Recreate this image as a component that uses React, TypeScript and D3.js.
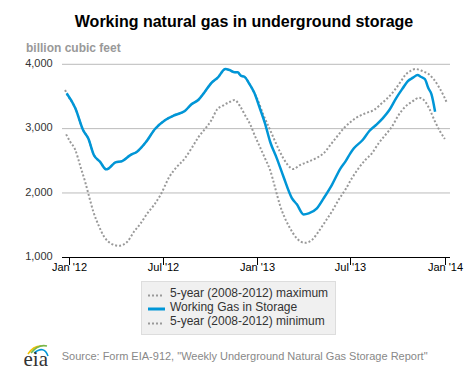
import * as d3 from "d3";

const width = 475;
const height = 386;
const font = "Arial, 'Liberation Sans', sans-serif";

// working gas in storage (bcf)
const storageDates = [
  "2011-12-27", "2012-01-13", "2012-01-28", "2012-02-07", "2012-02-18", "2012-03-01",
  "2012-03-13", "2012-03-18", "2012-03-31", "2012-04-13", "2012-04-29", "2012-05-12",
  "2012-05-29", "2012-06-16", "2012-07-06", "2012-07-25", "2012-08-13", "2012-08-26",
  "2012-09-08", "2012-09-21", "2012-10-03", "2012-10-16", "2012-10-31", "2012-11-08",
  "2012-11-18", "2012-11-24", "2012-11-30", "2012-12-07", "2012-12-16", "2012-12-26",
  "2013-01-06", "2013-01-16", "2013-01-26", "2013-02-08", "2013-02-21", "2013-03-09",
  "2013-03-19", "2013-04-01", "2013-04-11", "2013-04-27", "2013-05-10", "2013-05-26",
  "2013-06-12", "2013-06-22", "2013-07-01", "2013-07-08", "2013-07-25", "2013-08-07",
  "2013-08-20", "2013-09-02", "2013-09-15", "2013-09-28", "2013-10-11", "2013-10-21",
  "2013-10-31", "2013-11-09", "2013-11-15", "2013-11-23", "2013-11-30", "2013-12-06",
  "2013-12-13",
];
const storageValues = [
  3549, 3316, 2978, 2849, 2589, 2485,
  2367, 2383, 2476, 2496, 2589, 2641,
  2787, 2994, 3134, 3212, 3274, 3378,
  3445, 3574, 3704, 3792, 3927, 3911,
  3875, 3875, 3823, 3807, 3704, 3560,
  3316, 3082, 2796, 2538, 2252, 1925,
  1823, 1667, 1683, 1761, 1916, 2123,
  2383, 2496, 2616, 2694, 2823, 2963,
  3056, 3160, 3289, 3471, 3627, 3740,
  3792, 3834, 3807, 3771, 3627, 3533,
  3263,
];

// 5-year minimum
const minDates = [
  "2011-12-26", "2012-01-03", "2012-01-13", "2012-01-22", "2012-02-01", "2012-02-08",
  "2012-02-17", "2012-02-27", "2012-03-09", "2012-03-22", "2012-04-07", "2012-04-23",
  "2012-05-06", "2012-05-19", "2012-06-01", "2012-06-14", "2012-06-27", "2012-07-14",
  "2012-07-27", "2012-08-13", "2012-08-26", "2012-09-09", "2012-09-22", "2012-10-04",
  "2012-10-14", "2012-10-28", "2012-11-09", "2012-11-18", "2012-11-29", "2012-12-08",
  "2012-12-18", "2012-12-28", "2013-01-06", "2013-01-16", "2013-01-26", "2013-02-05",
  "2013-02-14", "2013-02-24", "2013-03-06", "2013-03-19", "2013-04-04", "2013-04-17",
  "2013-04-30", "2013-05-13", "2013-05-26", "2013-06-08", "2013-06-22", "2013-07-04",
  "2013-07-17", "2013-07-30", "2013-08-12", "2013-08-25", "2013-09-07", "2013-09-20",
  "2013-10-03", "2013-10-16", "2013-10-29", "2013-11-12", "2013-11-24", "2013-12-03",
  "2013-12-13", "2013-12-23", "2014-01-01",
];
const minValues = [
  2911, 2796, 2667, 2434, 2174, 1967,
  1708, 1501, 1319, 1216, 1179, 1241,
  1397, 1527, 1683, 1812, 1975, 2252,
  2392, 2538, 2694, 2874, 3004, 3134,
  3289, 3367, 3418, 3445, 3341, 3212,
  3070, 2875, 2718, 2538, 2356, 2072,
  1812, 1605, 1449, 1294, 1225, 1267,
  1397, 1552, 1708, 1890, 2060, 2227,
  2383, 2512, 2616, 2771, 2900, 3030,
  3212, 3341, 3418, 3480, 3418, 3289,
  3107, 2952, 2838,
];

// 5-year maximum: in 2012 it is the 2012 storage itself, so only the start and 2013 are read separately
const maxStartDate = "2011-12-24";
const maxStartValue = 3600;
const max2013Dates = [
  "2012-12-31", "2013-01-13", "2013-01-26", "2013-02-05", "2013-02-14", "2013-02-27",
  "2013-03-12", "2013-03-25", "2013-04-10", "2013-04-27", "2013-05-10", "2013-05-23",
  "2013-06-05", "2013-06-18", "2013-07-01", "2013-07-11", "2013-07-30", "2013-08-16",
  "2013-08-29", "2013-09-11", "2013-09-24", "2013-10-07", "2013-10-16", "2013-10-26",
  "2013-11-05", "2013-11-18", "2013-12-01", "2013-12-10", "2013-12-20", "2013-12-29",
  "2014-01-04",
];
const max2013Values = [
  3480, 3212, 2978, 2796, 2641, 2460,
  2372, 2434, 2485, 2547, 2616, 2745,
  2874, 3004, 3100, 3160, 3238, 3289,
  3378, 3471, 3585, 3730, 3834, 3896,
  3927, 3896, 3844, 3771, 3652, 3522,
  3418,
];

const yTicks = [1000, 2000, 3000, 4000];
const xTicks = ["2012-01-01", "2012-07-01", "2013-01-01", "2013-07-01", "2014-01-01"];
const xTickLabels = ["Jan '12", "Jul '12", "Jan '13", "Jul '13", "Jan '14"];
const legendLabels = [
  "5-year (2008-2012) maximum",
  "Working Gas in Storage",
  "5-year (2008-2012) minimum",
];

type Pt = { date: Date; value: number };
const parse = d3.timeParse("%Y-%m-%d");
const zip = (dates: string[], values: number[]): Pt[] =>
  dates.map((d, i) => ({ date: parse(d) as Date, value: values[i] }));

export default function App() {
  const storage = zip(storageDates, storageValues);
  const minSeries = zip(minDates, minValues);
  const cut = parse("2012-12-27") as Date;
  const maxSeries = [
    { date: parse(maxStartDate) as Date, value: maxStartValue },
    ...storage.filter((d) => d.date < cut),
    ...zip(max2013Dates, max2013Values),
  ];

  const x = d3
    .scaleTime()
    .domain([new Date(2011, 11, 18), new Date(2014, 0, 11)])
    .range([62, 450]);
  const y = d3.scaleLinear().domain([1000, 4000]).range([257.3, 64.3]);

  const line = d3
    .line<Pt>()
    .x((d) => x(d.date))
    .y((d) => y(d.value))
    .curve(d3.curveMonotoneX);

  const gray = "#999";
  const blue = "#0096d7";

  return (
    <svg
      width={width}
      height={height}
      style={{ position: "absolute", left: 0, top: 0, background: "#fff" }}
      fontFamily={font}
    >
      <text x={244} y={26.7} textAnchor="middle" fontSize={16} fontWeight="bold" fill="#000">
        Working natural gas in underground storage
      </text>
      <text x={26} y={51.5} fontSize={12} fontWeight="bold" fill="#999">
        billion cubic feet
      </text>

      {yTicks.map((t) => (
        <g key={t}>
          {t > 1000 && (
            <line x1={62} x2={450} y1={y(t)} y2={y(t)} stroke="#bbb" strokeWidth={1} />
          )}
          <text x={52.7} y={y(t) + 2.8} textAnchor="end" fontSize={11} fill="#333">
            {d3.format(",")(t)}
          </text>
        </g>
      ))}

      <path d={line(maxSeries) ?? ""} fill="none" stroke={gray} strokeWidth={2} strokeDasharray="2,2" />
      <path d={line(minSeries) ?? ""} fill="none" stroke={gray} strokeWidth={2} strokeDasharray="2,2" />
      <path d={line(storage) ?? ""} fill="none" stroke={blue} strokeWidth={2.5} strokeLinejoin="round" />

      <line x1={62} x2={450} y1={257.5} y2={257.5} stroke="#000" strokeWidth={1} />
      {xTicks.map((t, i) => {
        const px = Math.round(x(parse(t) as Date)) + 0.5;
        return (
          <g key={t}>
            <line x1={px} x2={px} y1={257.5} y2={265} stroke="#000" strokeWidth={1} />
            <text x={px} y={270.5} textAnchor="middle" fontSize={11} fill="#000">
              {xTickLabels[i]}
            </text>
          </g>
        );
      })}

      {/* legend */}
      <rect x={141.5} y={281.5} width={194} height={53} fill="#f0f0f0" stroke="#ddd" />
      {legendLabels.map((label, i) => {
        const cy = 294.5 + i * 14;
        return (
          <g key={label}>
            {i === 1 ? (
              <line x1={148} x2={165} y1={cy + 0.5} y2={cy + 0.5} stroke={blue} strokeWidth={3} />
            ) : (
              <line x1={148} x2={163} y1={cy + 1} y2={cy + 1} stroke={gray} strokeWidth={2} strokeDasharray="2,2" />
            )}
            <text x={170} y={cy + 2.5 + (i === 1 ? 0 : 0)} fontSize={12} fill="#333">
              {label}
            </text>
          </g>
        );
      })}

      {/* eia logo */}
      <path d="M28,354 Q33,346 41,346" fill="none" stroke="#f2c200" strokeWidth={1.6} />
      <path d="M31,353 Q38,344 47,346" fill="none" stroke="#7ab648" strokeWidth={1.6} />
      <path d="M34,353 Q44,345 48,356" fill="none" stroke="#0096d7" strokeWidth={1.6} />
      <text x={23.5} y={366} fontSize={21} fontFamily="'Liberation Serif', 'DejaVu Serif', serif" fill="#333">
        eia
      </text>
      <text x={61.7} y={359.8} fontSize={11} fill="#888">
        Source: Form EIA-912, "Weekly Underground Natural Gas Storage Report"
      </text>
    </svg>
  );
}
